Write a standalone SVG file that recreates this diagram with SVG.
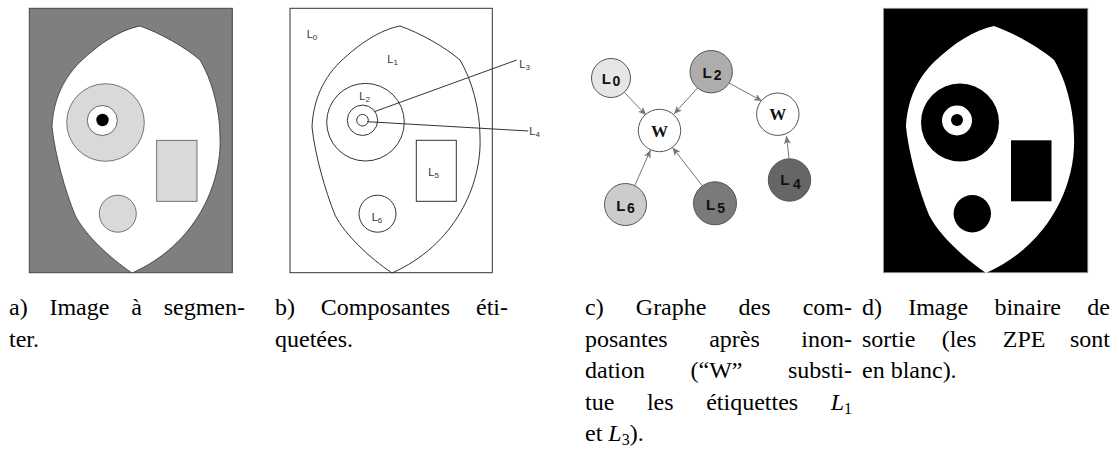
<svg xmlns="http://www.w3.org/2000/svg" width="1119" height="474" viewBox="0 0 1119 474">
<style>
.cap{font-family:'Liberation Serif','Times New Roman',serif;font-size:24px;fill:#000}
.capi{font-style:italic}
.lb{font-family:'Liberation Sans',Arial,sans-serif;font-size:11px;fill:#333}
.lbs{font-size:8px}
.ol{fill:none;stroke:#333;stroke-width:1}
.node{stroke:#555;stroke-width:1}
.nl{font-family:'Liberation Sans',Arial,sans-serif;font-weight:bold;font-size:15px;fill:#111;text-anchor:middle}
.nw{font-family:'Liberation Serif','Times New Roman',serif;font-weight:bold;font-size:17px;fill:#111;text-anchor:middle}
.edge{stroke:#777;stroke-width:1;fill:none;marker-end:url(#ah)}
</style>
<defs>
<path id="blob" d="M140,26 C160,33 185,47 200,60 C212,80 220,110 220,137 C222,185 195,245 132,273 C110,258 85,235 75,215 C65,190 55,155 52,127 C53,105 60,82 80,62 C100,43 120,30 140,26 Z"/>
<marker id="ah" markerWidth="9" markerHeight="7" refX="8" refY="3.5" orient="auto" markerUnits="userSpaceOnUse">
<path d="M0,0 L8,3.5 L0,7 L2,3.5 Z" fill="#777"/>
</marker>
</defs>
<rect width="1119" height="474" fill="#fff"/>

<!-- Panel a -->
<g id="panel-a">
<rect x="29.3" y="8.3" width="203" height="264.4" fill="#7f7f7f" stroke="#444" stroke-width="1"/>
<use href="#blob" fill="#fff" stroke="#333" stroke-width="0.8"/>
<circle cx="105.5" cy="122.5" r="38.8" fill="#d9d9d9" stroke="#555" stroke-width="0.8"/>
<circle cx="102.3" cy="120.5" r="15" fill="#fff" stroke="#444" stroke-width="0.8"/>
<circle cx="102.5" cy="120" r="6.2" fill="#000"/>
<rect x="156.7" y="140.3" width="40.3" height="61" fill="#d9d9d9" stroke="#555" stroke-width="0.8"/>
<circle cx="117.8" cy="213.7" r="18.5" fill="#d9d9d9" stroke="#555" stroke-width="0.8"/>
</g>

<!-- Panel b -->
<g id="panel-b">
<rect x="290" y="8.3" width="202.3" height="264.4" fill="#fff" stroke="#333" stroke-width="1"/>
<use href="#blob" transform="translate(260,0)" class="ol"/>
<circle cx="365.5" cy="122.2" r="38.8" class="ol"/>
<circle cx="362.5" cy="120.3" r="15.2" class="ol"/>
<circle cx="362.5" cy="120.2" r="5.8" class="ol"/>
<rect x="416.3" y="140.3" width="40" height="61" class="ol"/>
<circle cx="377.5" cy="213.7" r="18.5" class="ol"/>
<line x1="374.3" y1="111.7" x2="516.7" y2="60" stroke="#333" stroke-width="1"/>
<line x1="367.3" y1="121.7" x2="528.3" y2="131" stroke="#333" stroke-width="1"/>
<text class="lb" x="306.7" y="37.7">L<tspan class="lbs" dy="2">0</tspan></text>
<text class="lb" x="387.3" y="63.3">L<tspan class="lbs" dy="2">1</tspan></text>
<text class="lb" x="359.3" y="100">L<tspan class="lbs" dy="2">2</tspan></text>
<text class="lb" x="519.3" y="68.3">L<tspan class="lbs" dy="2">3</tspan></text>
<text class="lb" x="529.3" y="135">L<tspan class="lbs" dy="2">4</tspan></text>
<text class="lb" x="428.3" y="176">L<tspan class="lbs" dy="2">5</tspan></text>
<text class="lb" x="371.7" y="220.7">L<tspan class="lbs" dy="2">6</tspan></text>
</g>

<!-- Panel c: graph -->
<g id="edges">
<line class="edge" x1="624.2" y1="92.3" x2="646" y2="115"/>
<line class="edge" x1="697.5" y1="88" x2="674" y2="114"/>
<line class="edge" x1="729" y1="83" x2="762" y2="101"/>
<line class="edge" x1="635" y1="185" x2="650.5" y2="150"/>
<line class="edge" x1="702.5" y1="186" x2="672.5" y2="147.5"/>
<line class="edge" x1="789" y1="158.5" x2="786.5" y2="136"/>
</g>
<g id="node-L0"><circle class="node" cx="611" cy="78" r="19.5" fill="#e6e6e6"/><text class="nl" x="611" y="84">L<tspan font-size="14" dx="1.5" dy="2">0</tspan></text></g>
<g id="node-L2"><circle class="node" cx="711.2" cy="71.7" r="21.2" fill="#adadad"/><text class="nl" x="712" y="78">L<tspan font-size="14" dx="2" dy="2">2</tspan></text></g>
<g id="node-W1"><circle class="node" cx="659.5" cy="130.5" r="21.2" fill="#fff"/><text class="nw" x="659.5" y="136.5">W</text></g>
<g id="node-W2"><circle class="node" cx="777.8" cy="114.2" r="21.2" fill="#fff"/><text class="nw" x="777.8" y="120.2">W</text></g>
<g id="node-L6"><circle class="node" cx="625.5" cy="204.5" r="21" fill="#cccccc"/><text class="nl" x="625.5" y="211">L<tspan font-size="14" dx="1.5" dy="2">6</tspan></text></g>
<g id="node-L5"><circle class="node" cx="715" cy="203.3" r="21.5" fill="#7a7a7a"/><text class="nl" x="715.5" y="210">L<tspan font-size="14" dx="2" dy="3">5</tspan></text></g>
<g id="node-L4"><circle class="node" cx="789.5" cy="180" r="21.2" fill="#666"/><text class="nl" x="790.5" y="185">L<tspan font-size="14" dx="3.5" dy="4">4</tspan></text></g>

<!-- Panel d -->
<g id="panel-d">
<rect x="883.5" y="8.3" width="204.3" height="264.4" fill="#000" stroke="#999" stroke-width="0.8"/>
<use href="#blob" transform="translate(854,0)" fill="#fff"/>
<circle cx="960" cy="122.5" r="39" fill="#000"/>
<circle cx="957" cy="120.5" r="15" fill="#fff"/>
<circle cx="957" cy="120" r="6" fill="#000"/>
<rect x="1011" y="140.3" width="40.5" height="61" fill="#000"/>
<circle cx="972.3" cy="213.7" r="18.7" fill="#000"/>
</g>

<!-- Captions -->
<g id="captions" font-family="'Liberation Serif', 'Times New Roman', serif" font-size="24">
<text class="cap" y="315"><tspan x="9">a)</tspan><tspan x="49.4">Image</tspan><tspan x="131.2">à</tspan></text>
<text class="cap" x="245" y="315" text-anchor="end">segmen-</text>
<text class="cap" x="9" y="346.5">ter.</text>

<text class="cap" y="315"><tspan x="275">b)</tspan><tspan x="320.8">Composantes</tspan></text>
<text class="cap" x="508" y="315" text-anchor="end">éti-</text>
<text class="cap" x="275" y="346.5">quetées.</text>

<text class="cap" y="315"><tspan x="585">c)</tspan><tspan x="635.8">Graphe</tspan><tspan x="738.6">des</tspan></text>
<text class="cap" x="852" y="315" text-anchor="end">com-</text>
<text class="cap" y="346.5"><tspan x="585">posantes</tspan><tspan x="709.2">après</tspan></text>
<text class="cap" x="852" y="346.5" text-anchor="end">inon-</text>
<text class="cap" y="378"><tspan x="585">dation</tspan><tspan x="690.5">(“W”</tspan></text>
<text class="cap" x="852" y="378" text-anchor="end">substi-</text>
<text class="cap" y="409.5"><tspan x="585">tue</tspan><tspan x="646.9">les</tspan><tspan x="706.2">étiquettes</tspan></text>
<text class="cap" x="852" y="409.5" text-anchor="end"><tspan class="capi">L</tspan><tspan font-size="16" dy="4">1</tspan></text>
<text class="cap" x="585" y="441">et <tspan class="capi">L</tspan><tspan font-size="16" dy="4">3</tspan><tspan dy="-4">).</tspan></text>

<text class="cap" y="315"><tspan x="862">d)</tspan><tspan x="908.2">Image</tspan><tspan x="994.4">binaire</tspan></text>
<text class="cap" x="1110" y="315" text-anchor="end">de</text>
<text class="cap" y="346.5"><tspan x="862">sortie</tspan><tspan x="941.7">(les</tspan><tspan x="1002.8">ZPE</tspan></text>
<text class="cap" x="1110" y="346.5" text-anchor="end">sont</text>
<text class="cap" x="862" y="378">en blanc).</text>
</g>
</svg>
